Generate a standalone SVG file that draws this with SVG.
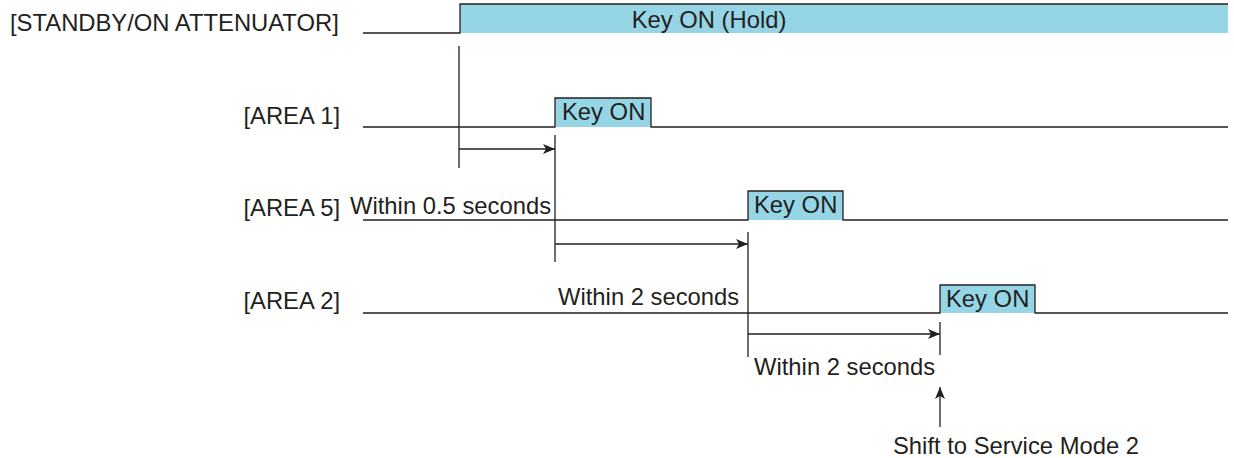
<svg xmlns="http://www.w3.org/2000/svg" width="1234" height="458" viewBox="0 0 1234 458">
<style>
.t{font-family:"Liberation Sans",Arial,sans-serif;font-size:23.8px;fill:#231f20}
.w{fill:none;stroke:#231f20;stroke-width:1.3}
.f{fill:#96d5e6;stroke:none}
.c{fill:none;stroke:#231f20;stroke-width:1.3}
</style>
<defs>
<marker id="ah" viewBox="0 0 12 10" refX="12" refY="5" markerWidth="12" markerHeight="10" markerUnits="userSpaceOnUse" orient="auto">
<path d="M0,0 L12,5 L0,10 L3,5 Z" fill="#231f20"/>
</marker>
</defs>
<rect width="1234" height="458" fill="#fff"/>
<g id="standby">
<rect class="f" x="460" y="4" width="768" height="29"/>
<path class="w" d="M363,33 H460 V4 H1228"/>
<text class="t" x="10" y="31">[STANDBY/ON ATTENUATOR]</text>
<text class="t" x="709" y="28" text-anchor="middle">Key ON (Hold)</text>
</g>
<g id="area1">
<rect class="f" x="555" y="98" width="96" height="29"/>
<path class="w" d="M363,127 H555 V98 H651 V127 H1228"/>
<text class="t" x="340" y="124" text-anchor="end">[AREA 1]</text>
<text class="t" x="562" y="120">Key ON</text>
</g>
<g id="area5">
<rect class="f" x="748" y="191" width="95" height="29"/>
<path class="w" d="M363,220 H748 V191 H843 V220 H1228"/>
<text class="t" x="340" y="216" text-anchor="end">[AREA 5]</text>
<text class="t" x="754" y="213">Key ON</text>
</g>
<g id="area2">
<rect class="f" x="940" y="285" width="95" height="28"/>
<path class="w" d="M363,313 H940 V285 H1035 V313 H1228"/>
<text class="t" x="340" y="309" text-anchor="end">[AREA 2]</text>
<text class="t" x="946" y="307">Key ON</text>
</g>
<g id="connectors">
<line class="c" x1="459" y1="46" x2="459" y2="168"/>
<line class="c" x1="555" y1="135" x2="555" y2="262"/>
<line class="c" x1="748" y1="232" x2="748" y2="357"/>
<line class="c" x1="940" y1="322" x2="940" y2="355"/>
<line class="c" x1="459" y1="149" x2="555" y2="149" marker-end="url(#ah)"/>
<line class="c" x1="555" y1="244" x2="748" y2="244" marker-end="url(#ah)"/>
<line class="c" x1="748" y1="334" x2="940" y2="334" marker-end="url(#ah)"/>
<line class="c" x1="940" y1="427" x2="940" y2="387" marker-end="url(#ah)"/>
</g>
<g id="labels">
<text class="t" x="350" y="214">Within 0.5 seconds</text>
<text class="t" x="558" y="305">Within 2 seconds</text>
<text class="t" x="754" y="375">Within 2 seconds</text>
<text class="t" x="893" y="454">Shift to Service Mode 2</text>
</g>
</svg>
